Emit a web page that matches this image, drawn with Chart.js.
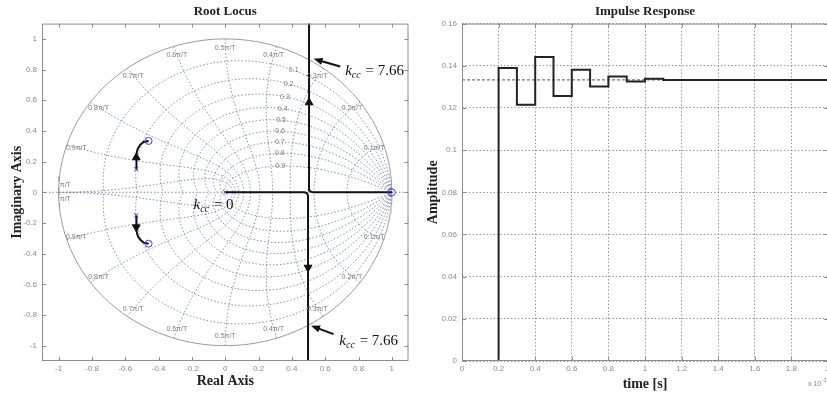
<!DOCTYPE html>
<html lang="en">
<head>
<meta charset="UTF-8">
<title>Root Locus and Impulse Response</title>
<script src="https://cdn.jsdelivr.net/npm/chart.js"></script>
<style>
  html, body { margin: 0; padding: 0; background: #fff; }
  body { width: 827px; height: 394px; overflow: hidden; position: relative; }
  #locus { position: absolute; left: 0; top: 0; }
  #impulse { position: absolute; left: 410px; top: 0; }
</style>
</head>
<body>
<canvas id="locus" width="414" height="394"></canvas>
<canvas id="impulse" width="424" height="394"></canvas>
<script>
// ---------- Root locus (left) ----------
const axisTicks = [-1, -0.8, -0.6, -0.4, -0.2, 0, 0.2, 0.4, 0.6, 0.8, 1];
const zetaLines = [0.1, 0.2, 0.3, 0.4, 0.5, 0.6, 0.7, 0.8, 0.9];
const wnLines = [0.1, 0.2, 0.3, 0.4, 0.5, 0.6, 0.7, 0.8, 0.9, 1.0]; // x pi/T
const zetaLabelWn = 0.35; // damping labels sit near wn = 0.35 pi/T

// locus branches
const branchRightX = [1, 0.525, 0.512, 0.506, 0.503, 0.503];
const branchRightY = [0, 0, 0.004, 0.012, 0.025, 1.25];
const branchLeftX = [0, 0.475, 0.488, 0.494, 0.497, 0.497];
const branchLeftY = [0, 0, -0.004, -0.012, -0.025, -1.25];
const branchCplxX = [-0.534, -0.534, -0.532, -0.525, -0.51, -0.49, -0.46];
const branchCplxY = [0.15, 0.2, 0.25, 0.285, 0.31, 0.328, 0.335];
const zerosX = [-0.46, -0.46, 1];
const zerosY = [0.335, -0.335, 0];
const polesX = [0, -0.534, -0.534];
const polesY = [0, 0.15, -0.15];
const arrowX = [0.503, 0.497, -0.534, -0.534];
const arrowY = [0.585, -0.49, 0.227, -0.227];
const arrowRot = [0, 180, 0, 180];

const gainNotes = [
  { value: '0', x: -0.19, y: -0.075 },
  { value: '7.66', x: 0.72, y: 0.8, tip: [0.53, 0.87], tail: [0.69, 0.82] },
  { value: '7.66', x: 0.685, y: -0.965, tip: [0.515, -0.87], tail: [0.65, -0.925] }
];

// ---------- Impulse response (right) ----------
const sampleTimes = [0, 0.2, 0.3, 0.4, 0.5, 0.6, 0.7, 0.8, 0.9, 1.0, 1.1, 2.0]; // x 10^-3 s
const amplitude = [0, 0.139, 0.1215, 0.1442, 0.1257, 0.1381, 0.1302, 0.1349, 0.1326, 0.1338, 0.1333, 0.1333];
const finalValue = 0.1333;
const timeTicks = [0, 0.2, 0.4, 0.6, 0.8, 1, 1.2, 1.4, 1.6, 1.8, 2];
const ampTicks = [0, 0.02, 0.04, 0.06, 0.08, 0.1, 0.12, 0.14, 0.16];

const serif = '"Liberation Serif", "Times New Roman", serif';
const sans = '"Liberation Sans", Arial, sans-serif';
const tickColor = '#8a8a8a';
const gridBlue = 'rgba(112, 122, 172, 0.85)';

function pts(xs, ys) { return xs.map((v, i) => ({ x: v, y: ys[i] })); }

// zgrid curves
function zetaCurve(z, sign) {
  const m = Math.tan(Math.asin(z));
  const out = [];
  for (let i = 0; i <= 90; i++) {
    const th = Math.PI * i / 90, r = Math.exp(-m * th);
    out.push({ x: r * Math.cos(th), y: sign * r * Math.sin(th) });
  }
  return out;
}
function wnCurve(k, sign) {
  const w = k * Math.PI, out = [];
  for (let i = 0; i <= 45; i++) {
    const phi = Math.PI / 2 + Math.PI / 2 * i / 45;
    const r = Math.exp(w * Math.cos(phi)), a = w * Math.sin(phi);
    out.push({ x: r * Math.cos(a), y: sign * r * Math.sin(a) });
  }
  return out;
}
function unitCircle() {
  const out = [];
  for (let i = 0; i <= 180; i++) {
    const a = 2 * Math.PI * i / 180;
    out.push({ x: Math.cos(a), y: Math.sin(a) });
  }
  return out;
}

const gridSets = [];
zetaLines.forEach(z => [1, -1].forEach(s => gridSets.push(zetaCurve(z, s))));
wnLines.forEach(k => [1, -1].forEach(s => gridSets.push(wnCurve(k, s))));
gridSets.push([{ x: -1.1, y: 0 }, { x: 1.1, y: 0 }]);

const fmt = d => v => String(Number(v.toFixed(d)));

// frame with inside ticks
const frame = {
  id: 'frame',
  afterDraw(chart) {
    const { ctx, chartArea: a, scales: { x, y } } = chart;
    ctx.save();
    ctx.strokeStyle = '#8c8c8c';
    ctx.lineWidth = 1;
    ctx.strokeRect(a.left + 0.5, a.top + 0.5, a.right - a.left - 1, a.bottom - a.top - 1);
    ctx.beginPath();
    x.ticks.forEach(t => {
      const p = Math.round(x.getPixelForValue(t.value)) + 0.5;
      ctx.moveTo(p, a.bottom); ctx.lineTo(p, a.bottom - 4);
      ctx.moveTo(p, a.top); ctx.lineTo(p, a.top + 4);
    });
    y.ticks.forEach(t => {
      const p = Math.round(y.getPixelForValue(t.value)) + 0.5;
      ctx.moveTo(a.left, p); ctx.lineTo(a.left + 4, p);
      ctx.moveTo(a.right, p); ctx.lineTo(a.right - 4, p);
    });
    ctx.stroke();
    ctx.restore();
  }
};

function drawGain(ctx, x, y, value) {
  ctx.textAlign = 'left';
  ctx.textBaseline = 'alphabetic';
  ctx.font = 'italic 15px ' + serif;
  ctx.fillText('k', x, y);
  let w = ctx.measureText('k').width;
  ctx.font = 'italic 10px ' + serif;
  ctx.fillText('cc', x + w, y + 3);
  w += ctx.measureText('cc').width;
  ctx.font = '15px ' + serif;
  ctx.fillText(' = ' + value, x + w + 1, y);
}

const locusNotes = {
  id: 'locusNotes',
  afterDatasetsDraw(chart) {
    const { ctx, scales: { x, y } } = chart;
    const px = v => x.getPixelForValue(v), py = v => y.getPixelForValue(v);
    ctx.save();
    ctx.fillStyle = '#7a7a7a';
    ctx.font = '7px ' + sans;
    ctx.textAlign = 'center';
    ctx.textBaseline = 'middle';
    const w0 = zetaLabelWn * Math.PI;
    zetaLines.forEach(z => {
      const th = w0 * Math.sqrt(1 - z * z), r = Math.exp(-z * w0);
      ctx.fillText(String(z), px(r * Math.cos(th)), py(r * Math.sin(th)));
    });
    wnLines.forEach(k => {
      [1, -1].forEach(s => {
        if (k === 1) {
          ctx.fillText('π/T', px(-0.96), py(s * 0.045));
        } else {
          const a = k * Math.PI, r = 0.94;
          ctx.fillText(k + 'π/T', px(r * Math.cos(a)), py(s * r * Math.sin(a)));
        }
      });
    });
    ctx.fillStyle = '#111';
    ctx.strokeStyle = '#111';
    gainNotes.forEach(n => {
      drawGain(ctx, px(n.x), py(n.y) + 5, n.value);
      if (n.tip) {
        const tx = px(n.tip[0]), ty = py(n.tip[1]), sx = px(n.tail[0]), sy = py(n.tail[1]);
        const ang = Math.atan2(ty - sy, tx - sx);
        ctx.lineWidth = 2;
        ctx.beginPath();
        ctx.moveTo(sx, sy);
        ctx.lineTo(tx - 6 * Math.cos(ang), ty - 6 * Math.sin(ang));
        ctx.stroke();
        ctx.beginPath();
        ctx.moveTo(tx, ty);
        ctx.lineTo(tx - 9 * Math.cos(ang) + 3.5 * Math.sin(ang), ty - 9 * Math.sin(ang) - 3.5 * Math.cos(ang));
        ctx.lineTo(tx - 9 * Math.cos(ang) - 3.5 * Math.sin(ang), ty - 9 * Math.sin(ang) + 3.5 * Math.cos(ang));
        ctx.closePath();
        ctx.fill();
      }
    });
    ctx.restore();
  }
};

const locusLine = { showLine: true, pointRadius: 0, borderColor: '#111', borderWidth: 2, order: 1 };

new Chart(document.getElementById('locus'), {
  type: 'scatter',
  data: {
    datasets: [
      { data: pts(arrowX, arrowY), pointStyle: 'triangle', rotation: arrowRot, pointRadius: 4.5,
        backgroundColor: '#111', borderColor: '#111', borderWidth: 1, order: 0 },
      { data: pts(zerosX, zerosY), pointStyle: 'circle', pointRadius: 3.5, backgroundColor: 'rgba(0,0,0,0)',
        borderColor: '#4040d0', borderWidth: 1, order: 0 },
      { data: pts(polesX, polesY), pointStyle: 'crossRot', pointRadius: 3, borderColor: '#4040d0', borderWidth: 1, order: 0 },
      Object.assign({ data: pts(branchRightX, branchRightY) }, locusLine),
      Object.assign({ data: pts(branchLeftX, branchLeftY) }, locusLine),
      Object.assign({ data: pts(branchCplxX, branchCplxY) }, locusLine),
      Object.assign({ data: pts(branchCplxX, branchCplxY.map(v => -v)) }, locusLine),
      { data: unitCircle(), showLine: true, pointRadius: 0, borderColor: '#9a9a9a', borderWidth: 1, order: 2 },
      ...gridSets.map(d => ({ data: d, showLine: true, pointRadius: 0, borderColor: gridBlue,
        borderWidth: 1, borderDash: [1.5, 2], order: 3 }))
    ]
  },
  options: {
    responsive: false,
    animation: false,
    layout: { padding: { right: 5 } },
    plugins: {
      legend: { display: false },
      tooltip: { enabled: false },
      title: { display: true, text: 'Root Locus', fullSize: false, color: '#222',
        font: { family: serif, size: 13, weight: 'bold' }, padding: { top: 4, bottom: 4 } }
    },
    scales: {
      x: {
        type: 'linear', min: -1.1, max: 1.1,
        afterBuildTicks: s => { s.ticks = axisTicks.map(v => ({ value: v })); },
        afterFit: s => { s.height = 33; },
        grid: { display: false, drawTicks: false }, border: { display: false },
        ticks: { color: tickColor, font: { family: sans, size: 8 }, padding: 3, maxRotation: 0, callback: fmt(1) },
        title: { display: true, text: 'Real Axis', color: '#222', font: { family: serif, size: 14, weight: 'bold' },
          padding: { top: 0, bottom: 4.6 } }
      },
      y: {
        type: 'linear', min: -1.1, max: 1.1,
        afterBuildTicks: s => { s.ticks = axisTicks.map(v => ({ value: v })); },
        afterFit: s => { s.width = 42; },
        grid: { display: false, drawTicks: false }, border: { display: false },
        ticks: { color: tickColor, font: { family: sans, size: 8 }, padding: 5, callback: fmt(1) },
        title: { display: true, text: 'Imaginary Axis', color: '#222', font: { family: serif, size: 14, weight: 'bold' },
          padding: { top: 9, bottom: 0 } }
      }
    }
  },
  plugins: [frame, locusNotes]
});

// exponent note under the right axis
const expNote = {
  id: 'expNote',
  afterDraw(chart) {
    const { ctx, chartArea: a } = chart;
    ctx.save();
    ctx.fillStyle = tickColor;
    ctx.textAlign = 'left';
    ctx.textBaseline = 'alphabetic';
    ctx.font = '7px ' + sans;
    ctx.fillText('x 10', a.right - 20, 386);
    ctx.font = '5px ' + sans;
    ctx.fillText('-3', a.right - 6, 382);
    ctx.restore();
  }
};

new Chart(document.getElementById('impulse'), {
  type: 'scatter',
  data: {
    datasets: [
      { data: pts(sampleTimes, amplitude), showLine: true, stepped: true, pointRadius: 0,
        borderColor: '#222', borderWidth: 2, order: 0 },
      { data: [{ x: 0, y: finalValue }, { x: 2, y: finalValue }], showLine: true, pointRadius: 0,
        borderColor: '#555', borderWidth: 1, borderDash: [3, 2], order: 1 }
    ]
  },
  options: {
    responsive: false,
    animation: false,
    layout: { padding: { right: 6 } },
    plugins: {
      legend: { display: false },
      tooltip: { enabled: false },
      title: { display: true, text: 'Impulse Response', fullSize: false, color: '#222',
        font: { family: serif, size: 13, weight: 'bold' }, padding: { top: 4, bottom: 4 } }
    },
    scales: {
      x: {
        type: 'linear', min: 0, max: 2,
        afterBuildTicks: s => { s.ticks = timeTicks.map(v => ({ value: v })); },
        afterFit: s => { s.height = 33; },
        grid: { color: 'rgba(120,120,120,0.75)', drawTicks: false }, border: { display: false, dash: [1.5, 2] },
        ticks: { color: tickColor, font: { family: sans, size: 8 }, padding: 3, maxRotation: 0, callback: fmt(1) },
        title: { display: true, text: 'time [s]', color: '#222', font: { family: serif, size: 14, weight: 'bold' },
          padding: { top: 0, bottom: 1.6 } }
      },
      y: {
        type: 'linear', min: 0, max: 0.16,
        afterBuildTicks: s => { s.ticks = ampTicks.map(v => ({ value: v })); },
        afterFit: s => { s.width = 52; },
        grid: { color: 'rgba(120,120,120,0.75)', drawTicks: false }, border: { display: false, dash: [1.5, 2] },
        ticks: { color: tickColor, font: { family: sans, size: 8 }, padding: 5, callback: fmt(2) },
        title: { display: true, text: 'Amplitude', color: '#222', font: { family: serif, size: 14, weight: 'bold' },
          padding: { top: 14.6, bottom: 0 } }
      }
    }
  },
  plugins: [frame, expNote]
});
</script>
</body>
</html>
